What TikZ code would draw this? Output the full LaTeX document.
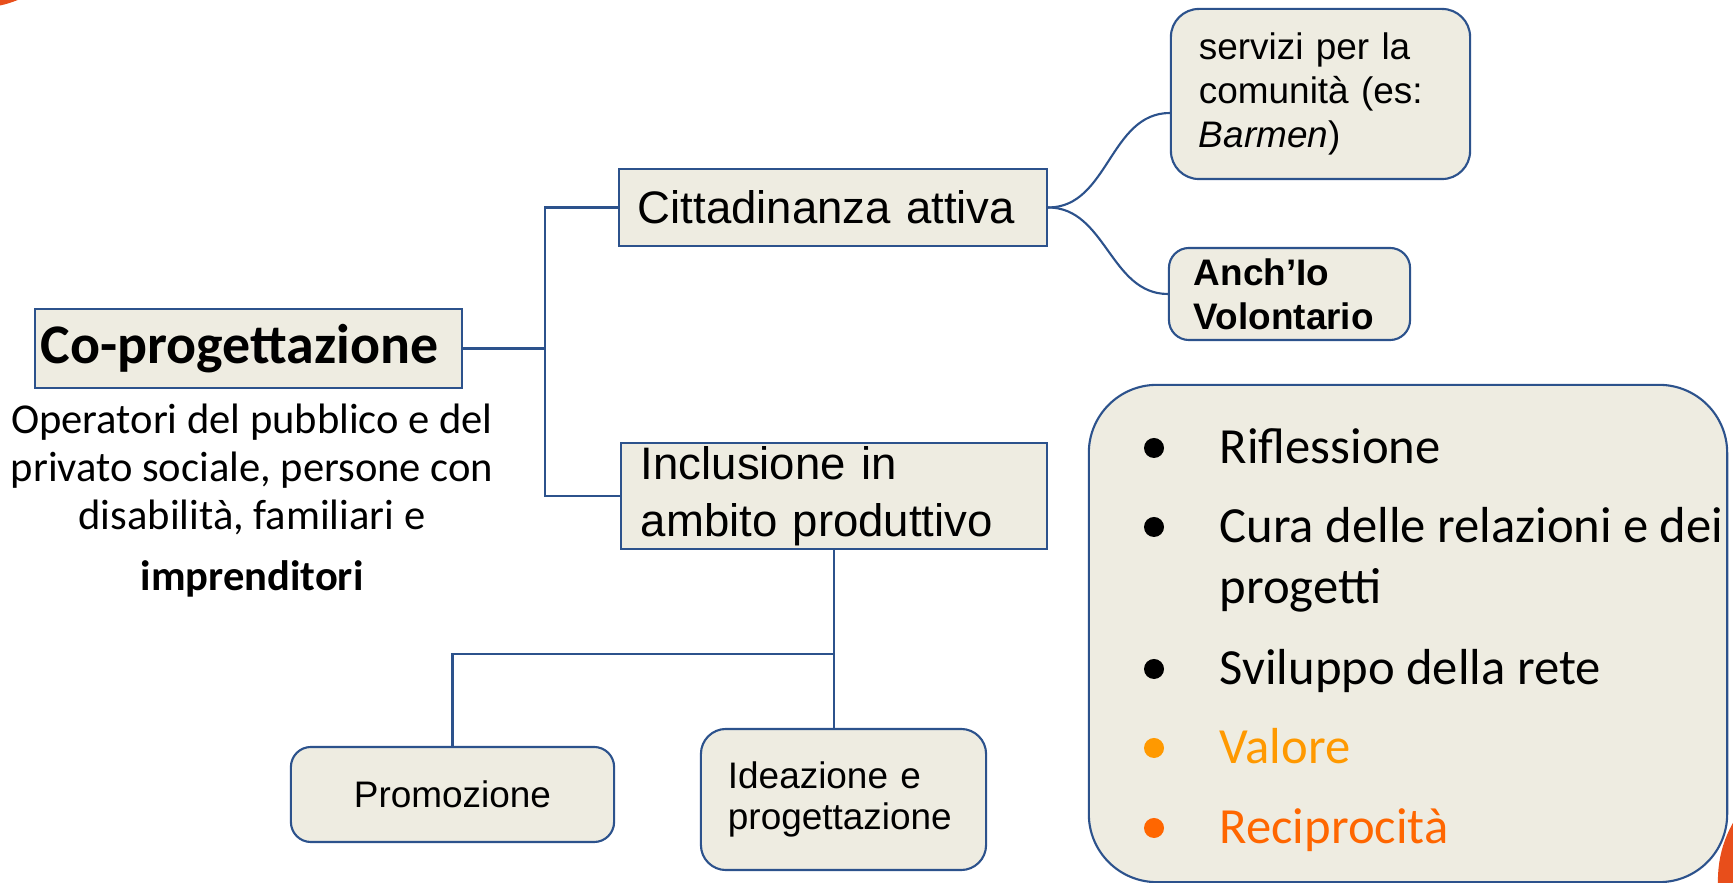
\documentclass[tikz,border=0pt]{standalone}
\usepackage{fontspec}
\setmainfont{Carlito}
\newfontfamily\arialfont{Liberation Sans}
\usetikzlibrary{positioning}
\definecolor{BoxFill}{RGB}{238,236,225}
\definecolor{LineBlue}{RGB}{44,82,140}
\definecolor{SlideOrange}{RGB}{232,78,27}
\definecolor{ValOrange}{RGB}{255,153,0}
\definecolor{RecOrange}{RGB}{255,102,0}
\newcommand\copfont{\fontsize{15.9}{18}\selectfont\bfseries}
\newcommand\descfont{\fontsize{12.1}{13.66}\selectfont}
\newcommand\bigboxfont{\arialfont\fontsize{12.95}{16.2}\selectfont}
\newcommand\smallboxfont{\arialfont\fontsize{10.5}{12.5}\selectfont}
\newcommand\listfont{\fontsize{14.4}{17.35}\selectfont}

\begin{document}
\begin{tikzpicture}
  [x=0.01cm,y=-0.01cm,
   box/.style={draw=LineBlue,fill=BoxFill,line width=0.6pt,inner ysep=0pt},
   sqbox/.style={box,rectangle},
   rbox/.style={box,rectangle,rounded corners=#1},
   rbox/.default=0.2cm,
   plain/.style={inner sep=0pt},
   conn/.style={draw=LineBlue,line width=0.6pt}]
  \useasboundingbox (0,0) rectangle (1733,883);
  \clip (0,0) rectangle (1733,883);
  \fill[SlideOrange] (-20,-90) circle (0.975cm);
  \fill[SlideOrange] (1834,880) circle (1.16cm);

  \node (cop) [sqbox,minimum width=4.27cm,minimum height=0.79cm,text width=4.15cm,inner xsep=0.06cm,align=left,font=\copfont] at (248.5,348.5) {Co-progettazione};
  \node (desc) [plain,anchor=base,align=center,font=\descfont] at (252,591) {Operatori del pubblico e del\\privato sociale, persone con\\disabilità, familiari e\\[0.13cm]\textbf{imprenditori}};

  \node (cit) [sqbox,minimum width=4.28cm,minimum height=0.77cm,text width=3.9cm,inner xsep=0.19cm,align=left,font=\bigboxfont] at (833,207.5) {Cittadinanza attiva};
  \node (incl) [sqbox,minimum width=4.26cm,minimum height=1.06cm,text width=3.86cm,inner xsep=0.2cm,align=left,font=\bigboxfont] at (834,496) {Inclusione in\\ambito produttivo};

  \node (serv) [rbox=0.28cm,minimum width=2.99cm,minimum height=1.7cm,text width=2.43cm,inner xsep=0.28cm,align=left,font=\smallboxfont] at (1320.5,94) {servizi per la\\comunità (es:\\\textit{Barmen})};
  \node (anch) [rbox,minimum width=2.41cm,minimum height=0.92cm,text width=1.91cm,inner xsep=0.25cm,align=left,font=\smallboxfont\bfseries] at (1289.5,294) {Anch’Io\\Volontario};

  \node (promo) [rbox,minimum width=3.23cm,minimum height=0.95cm,font=\smallboxfont] at (452.5,794.5) {Promozione};
  \node (idea) [rbox=0.25cm,minimum width=2.85cm,minimum height=1.41cm,text width=2.31cm,inner xsep=0.27cm,align=left,font=\arialfont\fontsize{10.5}{11.4}\selectfont] at (843.5,799.5) {Ideazione e\\progettazione};

  \node (list) [rbox=0.68cm,minimum width=6.38cm,minimum height=4.97cm] at (1408,633.5) {};
  \foreach \yb/\yt/\col/\txt [count=\i] in {464/464/black/Riflessione,543/604/black/{Cura delle relazioni e dei\\progetti},685/685/black/Sviluppo della rete,764/764/ValOrange/Valore,844/844/RecOrange/Reciprocità}
  {
    \fill[\col] (1154,\yb-16) circle (0.1cm);
    \node (item\i) [plain,anchor=base west,align=left,text=\col,font=\listfont] at (1219,\yt) {\txt};
  }

  % tree connectors
  \draw[conn] (cop.east) -- ++(82,0) coordinate (fork) |- (cit.west);
  \draw[conn] (fork) |- (incl.west);
  \draw[conn] (cit.east) to[out=0,in=180] ([yshift=-0.19cm]serv.west);
  \draw[conn] (cit.east) to[out=0,in=180] (anch.west);
  \coordinate (split) at (834,654);
  \draw[conn] (incl.south) -- (incl.south |- idea.north);
  \draw[conn] (incl.south |- split) -| (promo.north);
\end{tikzpicture}
\end{document}
